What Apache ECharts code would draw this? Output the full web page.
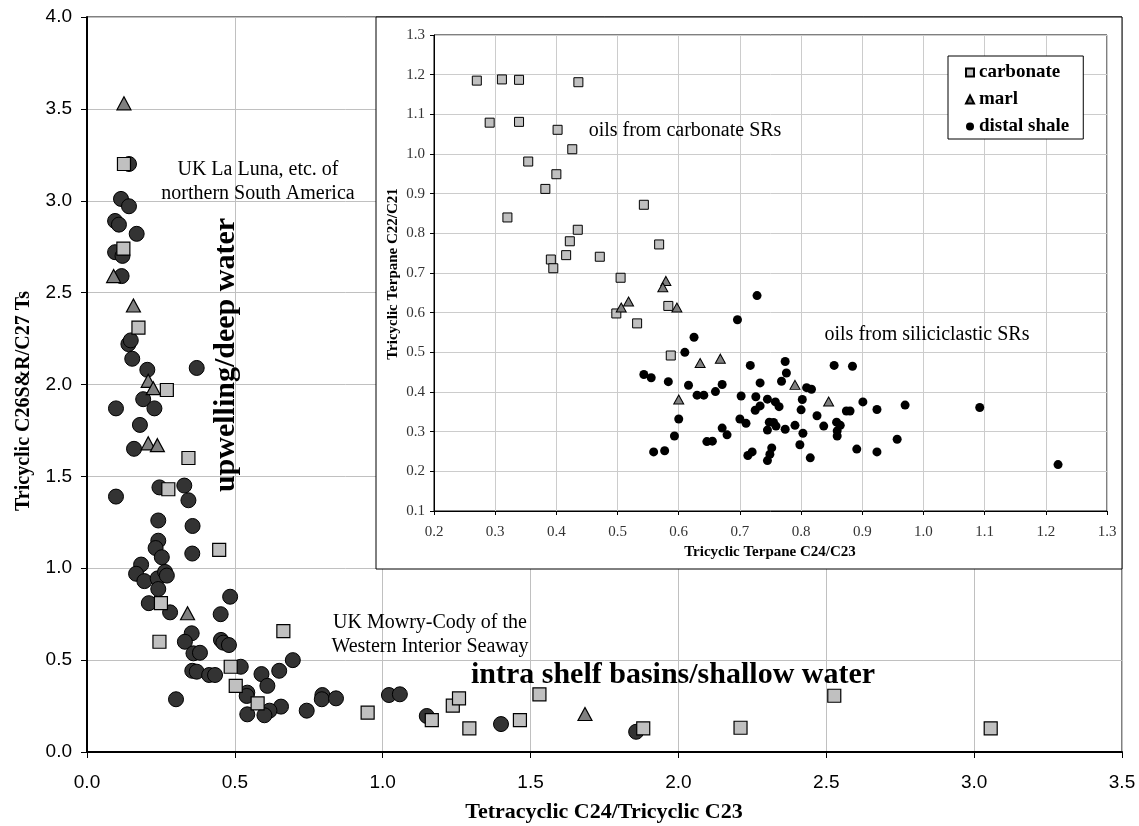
<!DOCTYPE html>
<html><head><meta charset="utf-8">
<script src="https://cdn.jsdelivr.net/npm/echarts@6/dist/echarts.min.js"></script>
<style>html,body{margin:0;padding:0;background:#fff}#c{width:1139px;height:826px}</style>
</head><body><div id="c"></div><script>
// ---- main chart data: [Tetracyclic C24/Tricyclic C23, Tricyclic C26S&R/C27 Ts]
const mainCarbonate = [[0.125,3.20],[0.123,2.74],[0.174,2.31],[0.270,1.97],[0.343,1.60],[0.275,1.43],[0.447,1.10],[0.250,0.81],[0.664,0.658],[0.245,0.60],[0.486,0.464],[0.503,0.36],[0.577,0.265],[0.949,0.214],[1.166,0.174],[1.237,0.252],[1.258,0.292],[1.293,0.129],[1.464,0.174],[1.530,0.314],[1.881,0.129],[2.210,0.132],[2.527,0.306],[3.056,0.129]];
const mainMarl = [[0.125,3.53],[0.090,2.59],[0.157,2.43],[0.207,2.02],[0.224,1.98],[0.207,1.68],[0.238,1.67],[0.340,0.755],[1.684,0.207]];
const mainShale = [[0.142,3.20],[0.115,3.01],[0.142,2.97],[0.095,2.89],[0.108,2.87],[0.168,2.82],[0.095,2.72],[0.120,2.70],[0.117,2.59],[0.140,2.22],[0.148,2.24],[0.153,2.14],[0.204,2.08],[0.371,2.09],[0.190,1.92],[0.098,1.87],[0.228,1.87],[0.179,1.78],[0.159,1.65],[0.329,1.45],[0.245,1.44],[0.098,1.39],[0.343,1.37],[0.241,1.26],[0.357,1.23],[0.241,1.15],[0.232,1.11],[0.253,1.06],[0.356,1.08],[0.183,1.02],[0.166,0.97],[0.194,0.93],[0.239,0.945],[0.264,0.98],[0.270,0.96],[0.241,0.887],[0.209,0.81],[0.281,0.76],[0.484,0.845],[0.452,0.75],[0.354,0.646],[0.331,0.60],[0.453,0.61],[0.461,0.595],[0.480,0.582],[0.360,0.537],[0.382,0.54],[0.356,0.442],[0.371,0.437],[0.413,0.419],[0.433,0.419],[0.520,0.464],[0.590,0.424],[0.650,0.442],[0.696,0.50],[0.610,0.36],[0.542,0.323],[0.540,0.305],[0.301,0.287],[0.656,0.247],[0.617,0.225],[0.743,0.225],[0.542,0.205],[0.600,0.20],[0.796,0.31],[0.794,0.287],[0.842,0.292],[1.021,0.31],[1.058,0.314],[1.149,0.196],[1.400,0.152],[1.857,0.11]];
// ---- inset data: [Tricyclic Terpane C24/C23, Tricyclic Terpane C22/C21]
const insetCarbonate = [[0.270,1.185],[0.311,1.188],[0.339,1.187],[0.436,1.181],[0.291,1.079],[0.339,1.081],[0.402,1.061],[0.426,1.012],[0.354,0.981],[0.400,0.949],[0.382,0.912],[0.543,0.872],[0.320,0.840],[0.435,0.809],[0.422,0.780],[0.416,0.745],[0.471,0.741],[0.391,0.734],[0.395,0.712],[0.568,0.772],[0.505,0.688],[0.498,0.598],[0.532,0.573],[0.583,0.617],[0.587,0.492]];
const insetMarl = [[0.579,0.680],[0.574,0.664],[0.506,0.613],[0.518,0.628],[0.597,0.613],[0.635,0.473],[0.668,0.484],[0.600,0.381],[0.790,0.418],[0.845,0.376]];
const insetShale = [[0.728,0.643],[0.696,0.582],[0.625,0.538],[0.610,0.500],[0.543,0.444],[0.555,0.436],[0.583,0.426],[0.616,0.417],[0.630,0.392],[0.641,0.392],[0.660,0.401],[0.671,0.419],[0.702,0.390],[0.600,0.332],[0.593,0.289],[0.559,0.249],[0.577,0.252],[0.646,0.275],[0.655,0.276],[0.671,0.309],[0.679,0.292],[0.700,0.332],[0.710,0.321],[0.713,0.240],[0.720,0.249],[0.717,0.467],[0.774,0.477],[0.776,0.448],[0.733,0.423],[0.768,0.427],[0.809,0.411],[0.817,0.407],[0.854,0.467],[0.884,0.465],[0.726,0.388],[0.745,0.382],[0.758,0.375],[0.764,0.363],[0.733,0.365],[0.725,0.354],[0.802,0.381],[0.800,0.355],[0.826,0.340],[0.901,0.375],[0.970,0.367],[1.092,0.361],[0.874,0.352],[0.880,0.352],[0.924,0.356],[0.748,0.324],[0.755,0.323],[0.759,0.314],[0.745,0.304],[0.774,0.306],[0.790,0.316],[0.803,0.296],[0.837,0.314],[0.858,0.324],[0.864,0.316],[0.859,0.302],[0.859,0.289],[0.957,0.281],[0.798,0.267],[0.891,0.256],[0.924,0.249],[0.815,0.234],[0.752,0.259],[0.749,0.243],[0.745,0.227],[1.220,0.217]];
const legendNames = ['carbonate','marl','distal shale'];
const mainX = {min:0, max:3.5, interval:0.5};
const mainY = {min:0, max:4.0, interval:0.5};
const insetX = {min:0.2, max:1.3, interval:0.1};
const insetY = {min:0.1, max:1.3, interval:0.1};
const titles = {
  mainX:'Tetracyclic C24/Tricyclic C23', mainY:'Tricyclic C26S&R/C27 Ts',
  insetX:'Tricyclic Terpane C24/C23', insetY:'Tricyclic Terpane C22/C21'
};

const SERIF = '"Liberation Serif","Times New Roman",serif';
const SANS = '"Liberation Sans",Arial,sans-serif';
const fmt = v => v.toFixed(1);

const chart = echarts.init(document.getElementById('c'), null, {renderer:'canvas'});
const txt = (x, y, text, font, rot) => ({type:'text', z:5, x:x, y:y, rotation:rot || 0,
  style:{text:text, font:font, fill:'#000', align:'center', verticalAlign:'middle'}});
const option = {
  animation:false,
  backgroundColor:'#fff',
  grid:[
    {left:87, top:17, width:1035, height:735, show:true, borderColor:'#000', borderWidth:1, backgroundColor:'#fff', containLabel:false},
    {left:434, top:35, width:673, height:476, show:true, borderColor:'#000', borderWidth:1, backgroundColor:'transparent', z:3, containLabel:false}
  ],
  xAxis:[
    {gridIndex:0, type:'value', min:mainX.min, max:mainX.max, interval:mainX.interval,
     axisLine:{show:true, onZero:false, lineStyle:{color:'#000', width:2}},
     axisTick:{show:true, inside:false, length:6, lineStyle:{color:'#000', width:1}},
     axisLabel:{formatter:fmt, fontFamily:SANS, fontSize:19, color:'#000', margin:21},
     splitLine:{show:true, lineStyle:{color:'#c0c0c0', width:1}}},
    {gridIndex:1, type:'value', min:insetX.min, max:insetX.max, interval:insetX.interval, z:3,
     axisLine:{show:true, onZero:false, lineStyle:{color:'#000', width:1}},
     axisTick:{show:true, inside:false, length:4, lineStyle:{color:'#000'}},
     axisLabel:{formatter:fmt, fontFamily:SERIF, fontSize:15, color:'#333', margin:14},
     splitLine:{show:true, lineStyle:{color:'#cccccc', width:1}}}
  ],
  yAxis:[
    {gridIndex:0, type:'value', min:mainY.min, max:mainY.max, interval:mainY.interval,
     axisLine:{show:true, onZero:false, lineStyle:{color:'#000', width:2}},
     axisTick:{show:true, inside:false, length:6, lineStyle:{color:'#000', width:1}},
     axisLabel:{formatter:fmt, fontFamily:SANS, fontSize:19, color:'#000', margin:15},
     splitLine:{show:true, lineStyle:{color:'#c0c0c0', width:1}}},
    {gridIndex:1, type:'value', min:insetY.min, max:insetY.max, interval:insetY.interval, z:3,
     axisLine:{show:true, onZero:false, lineStyle:{color:'#000', width:1}},
     axisTick:{show:true, inside:false, length:4, lineStyle:{color:'#000'}},
     axisLabel:{formatter:fmt, fontFamily:SERIF, fontSize:15, color:'#333', margin:9},
     splitLine:{show:true, lineStyle:{color:'#cccccc', width:1}}}
  ],
  legend:{
    data:legendNames, orient:'vertical', left:948, top:56, z:6,
    backgroundColor:'#fff', borderColor:'#000', borderWidth:1, padding:[6,14,2,17],
    itemWidth:8, itemHeight:8, itemGap:6, selectedMode:false,
    textStyle:{fontFamily:SERIF, fontWeight:'bold', fontSize:19, lineHeight:21, color:'#000'}
  },
  series:[
    {name:'main circles', type:'scatter', xAxisIndex:0, yAxisIndex:0, data:mainShale, symbol:'circle', symbolSize:15,
     itemStyle:{color:'#333333', borderColor:'#000', borderWidth:1, opacity:1}},
    {name:'main squares', type:'scatter', xAxisIndex:0, yAxisIndex:0, data:mainCarbonate, symbol:'rect', symbolSize:13,
     itemStyle:{color:'#c0c0c0', borderColor:'#000', borderWidth:1.2, opacity:1}},
    {name:'main triangles', type:'scatter', xAxisIndex:0, yAxisIndex:0, data:mainMarl, symbol:'triangle', symbolSize:[14,13],
     itemStyle:{color:'#808080', borderColor:'#000', borderWidth:1.2, opacity:1}},
    {name:'carbonate', type:'scatter', xAxisIndex:1, yAxisIndex:1, data:insetCarbonate, symbol:'rect', symbolSize:9, z:4,
     itemStyle:{color:'#c0c0c0', borderColor:'#000', borderWidth:1, opacity:1}},
    {name:'marl', type:'scatter', xAxisIndex:1, yAxisIndex:1, data:insetMarl, symbol:'triangle', symbolSize:[10,9], z:4,
     itemStyle:{color:'#808080', borderColor:'#000', borderWidth:1, opacity:1}},
    {name:'distal shale', type:'scatter', xAxisIndex:1, yAxisIndex:1, data:insetShale, symbol:'circle', symbolSize:9, z:4,
     itemStyle:{color:'#000', borderColor:'#000', borderWidth:0, opacity:1}}
  ],
  graphic:[
    {type:'rect', z:1, shape:{x:376, y:17, width:746, height:552}, style:{fill:'#fff', stroke:'#000', lineWidth:1}},
    txt(604, 812, titles.mainX, 'bold 22px '+SERIF),
    txt(24, 401, titles.mainY, 'bold 20px '+SERIF, Math.PI/2),
    txt(770, 552, titles.insetX, 'bold 15px '+SERIF),
    txt(393, 274, titles.insetY, 'bold 15px '+SERIF, Math.PI/2),
    txt(258, 170, 'UK La Luna, etc. of', '20px '+SERIF),
    txt(258, 194, 'northern South America', '20px '+SERIF),
    txt(226, 355, 'upwelling/deep water', 'bold 30px '+SERIF, Math.PI/2),
    txt(430, 623, 'UK Mowry-Cody of the', '20px '+SERIF),
    txt(430, 647, 'Western Interior Seaway', '20px '+SERIF),
    txt(673, 675, 'intra shelf basins/shallow water', 'bold 30px '+SERIF),
    txt(685, 131, 'oils from carbonate SRs', '20px '+SERIF),
    txt(927, 335, 'oils from siliciclastic SRs', '20px '+SERIF)
  ]
};
chart.setOption(option);
</script></body></html>
